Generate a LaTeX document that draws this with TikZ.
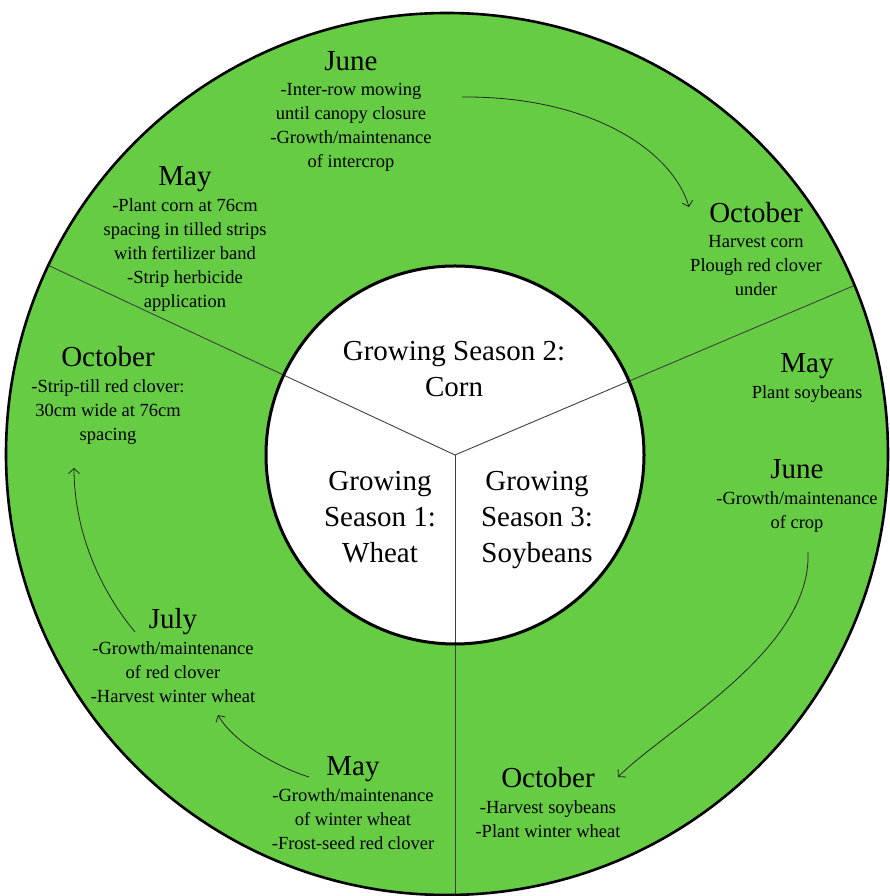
\documentclass[tikz,border=0pt]{standalone}
\usepackage{fontspec}
\setmainfont{Liberation Serif}
\usetikzlibrary{positioning,arrows.meta}
\definecolor{cropgreen}{RGB}{102,204,68}
\tikzset{
  cymonth/.style={anchor=base, inner sep=0pt, font=\fontsize{29}{34}\selectfont},
  cynote/.style={align=center, inner sep=0pt, font=\fontsize{18.5}{24}\selectfont},
  cyseason/.style={align=center, inner sep=0pt, font=\fontsize{29}{36}\selectfont},
  cyspoke/.style={draw=black!75, line width=0.9pt},
  cyturn/.style={draw=black!85, line width=0.8pt,
                 -{Straight Barb[length=5pt,width=11pt]}},
  cyring/.style={draw=black, line width=2.6pt}
}

\begin{document}
\begin{tikzpicture}[x=1pt, y=1pt]
  \useasboundingbox (0,0) rectangle (889,896);
  \coordinate (rim) at (447,442);
  \coordinate (hub) at (455,441);
  \fill[cropgreen] (rim) circle[radius=441];
  \fill[white] (hub) circle[radius=189];
  \begin{scope}
    \clip (rim) circle[radius=441];
    \foreach \ang in {155,23,270} { \draw[cyspoke] (hub) -- ++(\ang:470); }
  \end{scope}
  \draw[cyring, line width=3pt] (hub) circle[radius=189];
  \draw[cyring] (rim) circle[radius=441];

  % seasons in the hub
  \node[cyseason] (gs2) at (454,527) {Growing Season 2:\\Corn};
  \node[cyseason] (gs1) at (380,379) {Growing\\Season 1:\\Wheat};
  \node[cyseason] (gs3) at (537,376) {Growing\\Season 3:\\Soybeans};

  % season 2: corn
  \node[cymonth] (may2) at (185,710) {May};
  \node[cynote, below=12pt of may2.base] (may2n)
    {-Plant corn at 76cm\\spacing in tilled strips\\with fertilizer band\\-Strip herbicide\\application};
  \node[cymonth] (jun2) at (351,825) {June};
  \node[cynote, below=12pt of jun2.base] (jun2n)
    {-Inter-row mowing\\until canopy closure\\-Growth/maintenance\\of intercrop};
  \node[cymonth] (oct2) at (756,673) {October};
  \node[cynote, below=12pt of oct2.base] (oct2n)
    {Harvest corn\\Plough red clover\\under};

  % season 3: soybeans
  \node[cymonth] (may3) at (807,523) {May};
  \node[cynote, below=12pt of may3.base] (may3n) {Plant soybeans};
  \node[cymonth] (jun3) at (797,417) {June};
  \node[cynote, below=12pt of jun3.base] (jun3n)
    {-Growth/maintenance\\of crop};
  \node[cymonth] (oct3) at (548,108) {October};
  \node[cynote, below=12pt of oct3.base] (oct3n)
    {-Harvest soybeans\\-Plant winter wheat};

  % season 1: wheat
  \node[cymonth] (may1) at (353,120) {May};
  \node[cynote, below=12pt of may1.base] (may1n)
    {-Growth/maintenance\\of winter wheat\\-Frost-seed red clover};
  \node[cymonth] (jul1) at (173,267) {July};
  \node[cynote, below=12pt of jul1.base] (jul1n)
    {-Growth/maintenance\\of red clover\\-Harvest winter wheat};
  \node[cymonth] (oct1) at (108,529) {October};
  \node[cynote, below=12pt of oct1.base] (oct1n)
    {-Strip-till red clover:\\30cm wide at 76cm\\spacing};

  % turning arrows
  \coordinate (a1s) at (462,799); \coordinate (a1e) at (689,689);
  \coordinate (a2s) at (808,344); \coordinate (a2e) at (618,119);
  \coordinate (a3s) at (309,119); \coordinate (a3e) at (218,181);
  \coordinate (a4s) at (135,264); \coordinate (a4e) at (74,428);
  \draw[cyturn] (a1s) .. controls (590,800) and (672,746) .. (a1e);
  \draw[cyturn] (a2s) .. controls (812,246) and (668,169) .. (a2e);
  \draw[cyturn] (a3s) .. controls (285,126) and (235,151) .. (a3e);
  \draw[cyturn] (a4s) .. controls (92,316) and (74,376) .. (a4e);
\end{tikzpicture}
\end{document}
